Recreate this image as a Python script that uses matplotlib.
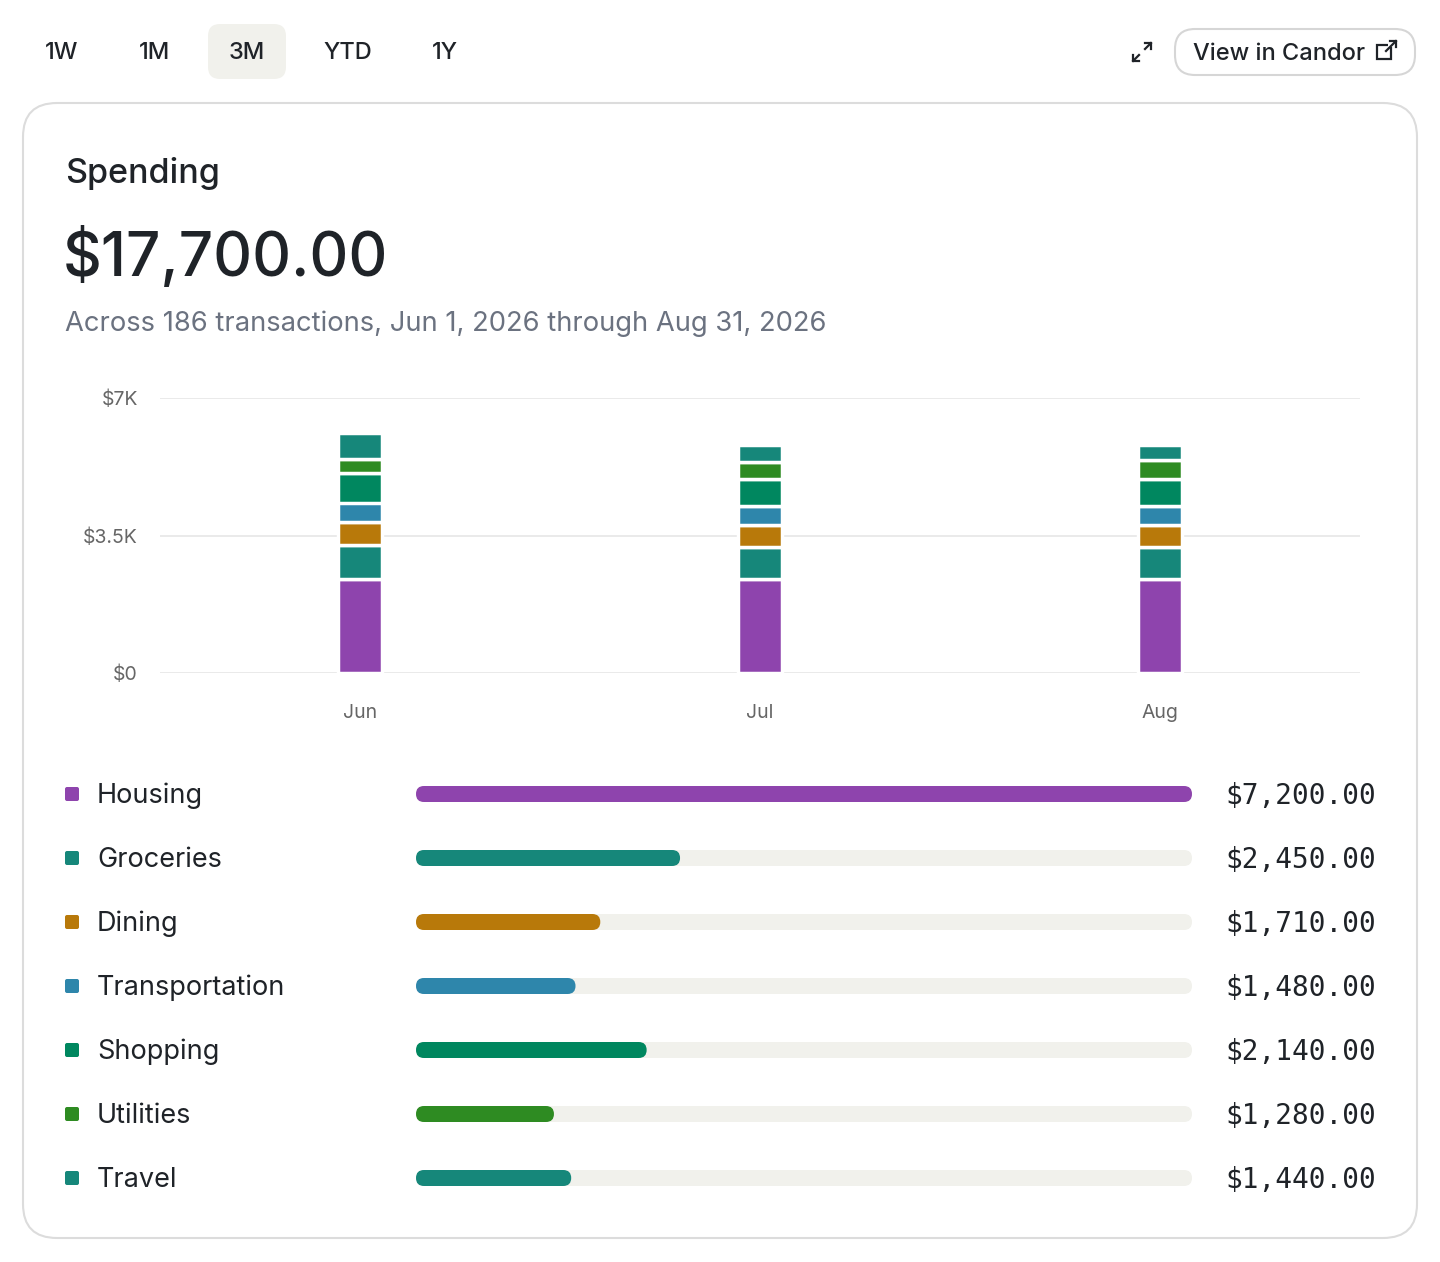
import matplotlib
matplotlib.use("Agg")
import matplotlib.pyplot as plt
from matplotlib.patches import FancyBboxPatch, Rectangle
import numpy as np

W, H = 1440, 1262
months = ["Jun", "Jul", "Aug"]
categories = ["Housing", "Groceries", "Dining", "Transportation", "Shopping", "Utilities", "Travel"]
colors = ["#8E44AD", "#16877A", "#B8790A", "#2E86AB", "#00875F", "#2E8B22", "#16877A"]
monthly = {
    "Housing": [2400, 2400, 2400],
    "Groceries": [850, 800, 800],
    "Dining": [590, 560, 560],
    "Transportation": [500, 490, 490],
    "Shopping": [740, 700, 700],
    "Utilities": [380, 430, 470],
    "Travel": [640, 420, 380],
}
totals = [7200, 2450, 1710, 1480, 2140, 1280, 1440]
yticks = [0, 3500, 7000]
ytick_labels = ["$0", "$3.5K", "$7K"]
periods = ["1W", "1M", "3M", "YTD", "1Y"]

fig = plt.figure(figsize=(W/100, H/100), dpi=100)
fig.patch.set_facecolor("white")

def add_ax(x0, y0, x1, y1):
    return fig.add_axes([x0/W, 1 - y1/H, (x1-x0)/W, (y1-y0)/H])

bg = fig.add_axes([0, 0, 1, 1])
bg.set_xlim(0, W); bg.set_ylim(H, 0); bg.axis("off")
bg.add_patch(FancyBboxPatch((23, 103), 1394, 1135, boxstyle="round,pad=0,rounding_size=34",
                            fc="white", ec="#DCDCDC", lw=1.5))
bg.add_patch(FancyBboxPatch((208, 24), 78, 55, boxstyle="round,pad=0,rounding_size=12",
                            fc="#F1F1EC", ec="none"))
bg.add_patch(FancyBboxPatch((1175, 29), 240, 46, boxstyle="round,pad=0,rounding_size=20",
                            fc="white", ec="#D6D6D6", lw=1.5))
for lbl, x in zip(periods, [62, 154, 247, 348, 445]):
    bg.text(x, 53, lbl, ha="center", va="center", fontsize=17, color="#1F2328", family="Inter", fontweight=500)
bg.text(1193, 54, "View in Candor", ha="left", va="center", fontsize=17, color="#1F2328", family="Inter", fontweight=500)
# external link icon
bg.add_patch(Rectangle((1377, 45), 14, 14, fill=False, ec="#1F2328", lw=1.6))
bg.add_patch(Rectangle((1388, 39), 10, 8, fc="white", ec="none"))
bg.plot([1386, 1396], [51, 41], color="#1F2328", lw=1.6)
bg.plot([1390, 1396, 1396], [41, 41, 47], color="#1F2328", lw=1.6)
# expand icon
bg.plot([1151, 1145], [43, 49], color="#1F2328", lw=1.6)
bg.plot([1133, 1139], [61, 55], color="#1F2328", lw=1.6)
bg.plot([1145, 1151, 1151], [43, 43, 49], color="#1F2328", lw=1.6)
bg.plot([1133, 1133, 1139], [55, 61, 61], color="#1F2328", lw=1.6)

bg.text(65, 174, "Spending", ha="left", va="center", fontsize=24.5, color="#1F2328", family="Inter", fontweight=500)
bg.text(63, 258, "$17,700.00", ha="left", va="center", fontsize=43.5, color="#1F2328", family="Inter", fontweight=500)
bg.text(65, 324, "Across 186 transactions, Jun 1, 2026 through Aug 31, 2026", ha="left", va="center",
        fontsize=19.7, color="#6B7280", family="Inter")

ax = add_ax(160, 398, 1360, 673)
ax.set_xlim(-0.5, 2.5); ax.set_ylim(0, 7000)
for s in ax.spines.values(): s.set_visible(False)
ax.set_facecolor("none")
ax.set_yticks(yticks); ax.set_yticklabels(ytick_labels)
ax.set_xticks(range(3)); ax.set_xticklabels(months)
ax.tick_params(length=0, labelsize=14, labelcolor="#666666")
ax.tick_params(axis="y", pad=16)
ax.tick_params(axis="x", pad=22)
for lab in ax.get_xticklabels() + ax.get_yticklabels():
    lab.set_family("Inter")
ax.grid(axis="y", color="#E6E6E6", lw=1.2)
ax.set_axisbelow(True)
x = np.arange(3)
bottom = np.zeros(3)
for cat, c in zip(categories, colors):
    v = np.array(monthly[cat], dtype=float)
    ax.bar(x, v, 0.11, bottom=bottom, color=c, edgecolor="white", linewidth=2.5, zorder=3)
    bottom += v

# legend rows with progress bars (track spans 416..1192 px, scaled to max total)
x0, x1 = 416, 1192
vmax = max(totals)
for i, (cat, c, t) in enumerate(zip(categories, colors, totals)):
    yc = 794 + 64 * i
    bg.add_patch(FancyBboxPatch((x0, yc - 8), x1 - x0, 16, boxstyle="round,pad=0,rounding_size=8",
                                fc="#F1F1EC", ec="none"))
    bg.add_patch(FancyBboxPatch((x0, yc - 8), (x1 - x0) * t / vmax, 16, boxstyle="round,pad=0,rounding_size=8",
                                fc=c, ec="none"))
    bg.add_patch(FancyBboxPatch((65, yc - 7), 14, 14, boxstyle="round,pad=0,rounding_size=2", fc=c, ec="none"))
    bg.text(97, yc + 2, cat, ha="left", va="center", fontsize=19.5, color="#1F2328", family="Inter")
    bg.text(1376, yc + 2, f"${t:,.2f}", ha="right", va="center", fontsize=20, color="#1F2328",
            family="DejaVu Sans Mono")

fig.savefig("out.png", dpi=100, facecolor="white")
